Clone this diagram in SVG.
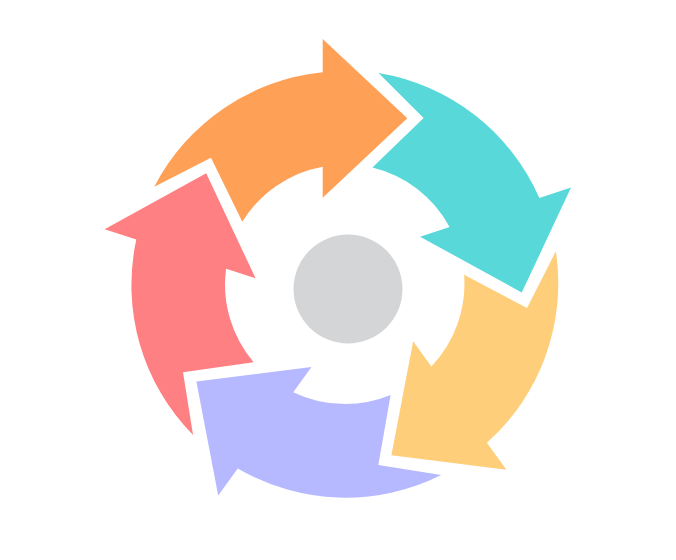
<svg xmlns="http://www.w3.org/2000/svg" xmlns:xlink="http://www.w3.org/1999/xlink" width="676" height="560" viewBox="0 0 676 560">
  <style>
    .hub { fill: #D4D5D7; }
  </style>
  <defs>
    <path id="arrowShape" d="M 154.3,186.7 L 211,157.7 L 242.3,221.7 A 119.7 119.7 0 0 1 322.7,166.7 L 322.7,197.7 L 407.3,118.3 L 322.7,39 L 322.7,72.3 A 213.5 213.5 0 0 0 154.3,186.7 Z"/>
  </defs>
  <rect width="676" height="560" fill="#FFFFFF"/>
  <g id="connectors"></g>
  <g id="step1"><use xlink:href="#arrowShape" href="#arrowShape" fill="#FFA057"/></g>
  <g id="step2"><use xlink:href="#arrowShape" href="#arrowShape" fill="#59D8DA" transform="rotate(72 344.6 284.2)"/></g>
  <g id="step3"><use xlink:href="#arrowShape" href="#arrowShape" fill="#FFCE7B" transform="rotate(144 344.6 284.2)"/></g>
  <g id="step4"><use xlink:href="#arrowShape" href="#arrowShape" fill="#B6B9FF" transform="rotate(216 344.6 284.2)"/></g>
  <g id="step5"><use xlink:href="#arrowShape" href="#arrowShape" fill="#FF8083" transform="rotate(288 344.6 284.2)"/></g>
  <g id="hub"><circle class="hub" cx="348" cy="289" r="54.5"/></g>
</svg>
